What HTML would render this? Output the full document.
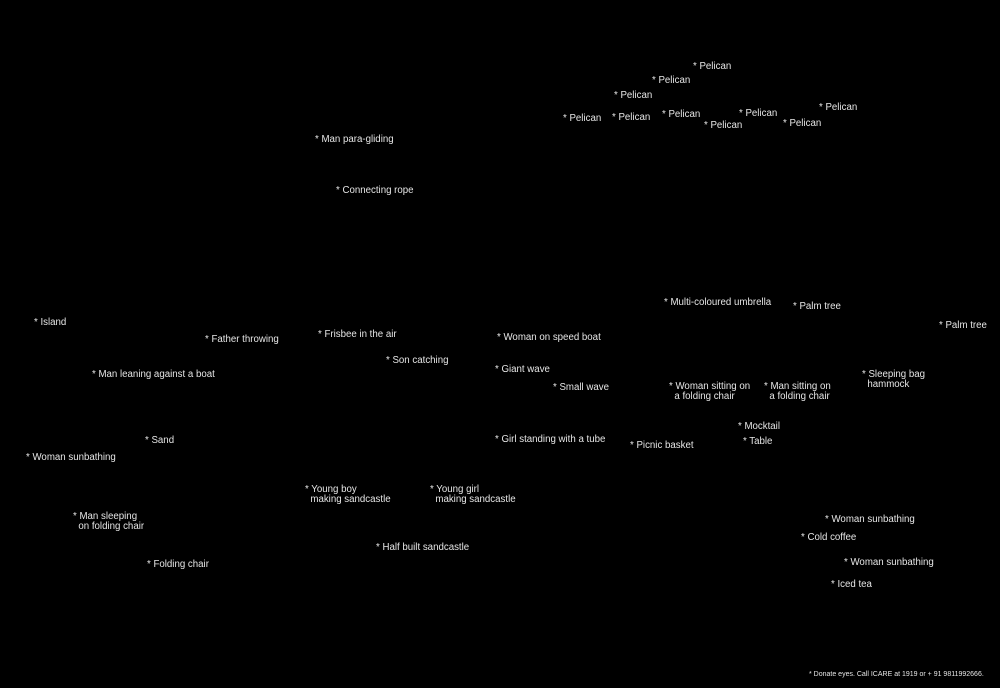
<!DOCTYPE html>
<html><head><meta charset="utf-8"><style>
html,body{margin:0;padding:0;background:#000;}
body{width:1000px;height:686px;position:relative;overflow:hidden;font-family:"Liberation Sans",sans-serif;font-size:9.7px;line-height:10px;color:#e6e6e6;}
div{position:absolute;white-space:nowrap;}
#w{position:absolute;left:0;top:2px;width:1000px;height:686px;}
</style></head><body><div id="w">
<div style="left:693px;top:60px">* Pelican</div>
<div style="left:652px;top:74px">* Pelican</div>
<div style="left:614px;top:89px">* Pelican</div>
<div style="left:563px;top:112px">* Pelican</div>
<div style="left:612px;top:111px">* Pelican</div>
<div style="left:662px;top:108px">* Pelican</div>
<div style="left:704px;top:119px">* Pelican</div>
<div style="left:739px;top:107px">* Pelican</div>
<div style="left:783px;top:117px">* Pelican</div>
<div style="left:819px;top:101px">* Pelican</div>
<div style="left:315px;top:133px">* Man para-gliding</div>
<div style="left:336px;top:184px">* Connecting rope</div>
<div style="left:664px;top:296px">* Multi-coloured umbrella</div>
<div style="left:793px;top:300px">* Palm tree</div>
<div style="left:939px;top:319px">* Palm tree</div>
<div style="left:34px;top:316px">* Island</div>
<div style="left:205px;top:333px">* Father throwing</div>
<div style="left:318px;top:328px">* Frisbee in the air</div>
<div style="left:497px;top:331px">* Woman on speed boat</div>
<div style="left:386px;top:354px">* Son catching</div>
<div style="left:92px;top:368px">* Man leaning against a boat</div>
<div style="left:495px;top:363px">* Giant wave</div>
<div style="left:553px;top:381px">* Small wave</div>
<div style="left:669px;top:380px">* Woman sitting on<br>&nbsp;&nbsp;a folding chair</div>
<div style="left:764px;top:380px">* Man sitting on<br>&nbsp;&nbsp;a folding chair</div>
<div style="left:862px;top:368px">* Sleeping bag<br>&nbsp;&nbsp;hammock</div>
<div style="left:738px;top:420px">* Mocktail</div>
<div style="left:743px;top:435px">* Table</div>
<div style="left:630px;top:439px">* Picnic basket</div>
<div style="left:495px;top:433px">* Girl standing with a tube</div>
<div style="left:145px;top:434px">* Sand</div>
<div style="left:26px;top:451px">* Woman sunbathing</div>
<div style="left:305px;top:483px">* Young boy<br>&nbsp;&nbsp;making sandcastle</div>
<div style="left:430px;top:483px">* Young girl<br>&nbsp;&nbsp;making sandcastle</div>
<div style="left:73px;top:510px">* Man sleeping<br>&nbsp;&nbsp;on folding chair</div>
<div style="left:376px;top:541px">* Half built sandcastle</div>
<div style="left:147px;top:558px">* Folding chair</div>
<div style="left:825px;top:513px">* Woman sunbathing</div>
<div style="left:801px;top:531px">* Cold coffee</div>
<div style="left:844px;top:556px">* Woman sunbathing</div>
<div style="left:831px;top:578px">* Iced tea</div>
<div style="left:809px;top:669px;font-size:7px;line-height:7px">* Donate eyes. Call ICARE at 1919 or + 91 9811992666.</div>
</div></body></html>
